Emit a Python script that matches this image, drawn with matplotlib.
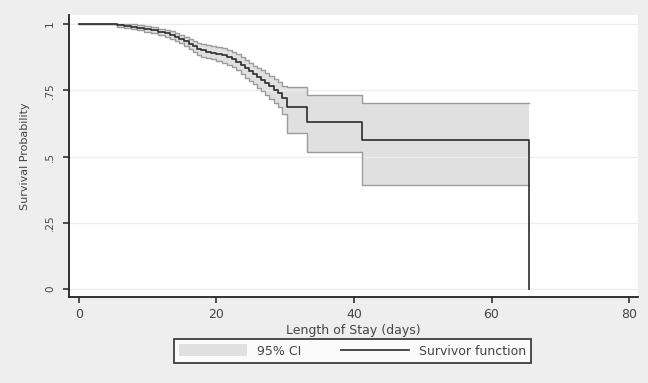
import numpy as np
import matplotlib
matplotlib.use("Agg")
import matplotlib.pyplot as plt
from matplotlib.patches import Patch
from matplotlib.lines import Line2D


# Kaplan-Meier step estimates
event_days = [0, 5.5, 6.5, 7.5, 8.5, 9.5, 10.5, 11.5, 12.5, 13.2, 13.9, 14.6,
              15.3, 16.0, 16.6, 17.2, 17.8, 18.5, 19.2, 20.0, 20.8, 21.5,
              22.2, 22.9, 23.5, 24.1, 24.7, 25.3, 25.9, 26.5, 27.1, 27.7,
              28.3, 28.9, 29.5, 30.2, 33.2, 41.2, 65.5]
survival = [1.0, 0.997, 0.994, 0.99, 0.986, 0.981, 0.976, 0.97, 0.964, 0.958,
            0.951, 0.944, 0.935, 0.925, 0.915, 0.905, 0.9, 0.896, 0.892,
            0.888, 0.882, 0.875, 0.868, 0.858, 0.846, 0.834, 0.822, 0.81,
            0.80, 0.79, 0.778, 0.765, 0.752, 0.74, 0.72, 0.687, 0.632, 0.562,
            0.0]
ci_upper = [1.0, 1.0, 1.0, 0.998, 0.995, 0.991, 0.987, 0.982, 0.977, 0.972,
            0.966, 0.96, 0.952, 0.944, 0.936, 0.928, 0.924, 0.92, 0.917,
            0.913, 0.908, 0.902, 0.896, 0.887, 0.876, 0.865, 0.853, 0.842,
            0.834, 0.825, 0.814, 0.803, 0.791, 0.781, 0.765, 0.763, 0.732,
            0.70, 0.70]
ci_lower = [1.0, 0.99, 0.986, 0.981, 0.976, 0.97, 0.964, 0.957, 0.95, 0.943,
            0.935, 0.927, 0.917, 0.905, 0.893, 0.881, 0.875, 0.871, 0.866,
            0.861, 0.854, 0.846, 0.838, 0.826, 0.812, 0.798, 0.785, 0.772,
            0.76, 0.748, 0.733, 0.718, 0.702, 0.688, 0.662, 0.587, 0.516,
            0.392, 0.392]

x_ticks = [0, 20, 40, 60, 80]
y_ticks = [0, 0.25, 0.5, 0.75, 1]
y_tick_labels = ["0", ".25", ".5", ".75", "1"]


def main() -> None:
    # ------------------------------------------------------------------
    # Figure / axes, Stata-like look
    # ------------------------------------------------------------------
    fig = plt.figure(figsize=(6.48, 3.83), dpi=100, facecolor="#eeeeee")
    ax = fig.add_axes([0.1065, 0.2245, 0.878, 0.7365])
    ax.set_facecolor("white")

    t = np.array(event_days)

    # confidence band
    ax.fill_between(t, ci_lower, ci_upper, step="post",
                    facecolor="#e0e0e0", edgecolor="none", zorder=1)
    ax.step(t, ci_upper, where="post", color="#9c9c9c", lw=1.0, zorder=2)
    ax.step(t, ci_lower, where="post", color="#9c9c9c", lw=1.0, zorder=2)

    # survivor function
    ax.step(t, survival, where="post", color="#333333", lw=1.25, zorder=3)

    # ------------------------------------------------------------------
    # Axes formatting
    # ------------------------------------------------------------------
    ax.set_xlim(-1.45, 81.3)
    ax.set_ylim(-0.03, 1.034)
    ax.set_xticks(x_ticks)
    ax.set_yticks(y_ticks)
    ax.set_yticklabels(y_tick_labels, rotation=90, va="center")
    ax.grid(True, axis="y", color="#ececec", lw=0.9, zorder=0)

    for side in ["top", "right"]:
        ax.spines[side].set_visible(False)
    for side in ["left", "bottom"]:
        ax.spines[side].set_color("#222222")
        ax.spines[side].set_linewidth(1.3)

    ax.tick_params(axis="x", length=4, width=1.1, color="#222222",
                   labelsize=9, labelcolor="#444444", pad=4)
    ax.tick_params(axis="y", length=4, width=1.1, color="#222222",
                   labelsize=7.5, labelcolor="#444444", pad=6)

    ax.set_xlabel("Length of Stay (days)", fontsize=9, color="#444444")
    ax.xaxis.set_label_coords(0.5, -0.095)
    ax.set_ylabel("Survival Probability", fontsize=8, color="#444444")
    ax.yaxis.set_label_coords(-0.069, 0.5)

    # ------------------------------------------------------------------
    # Legend
    # ------------------------------------------------------------------
    handles = [
        Patch(facecolor="#e0e0e0", edgecolor="none"),
        Line2D([], [], color="#333333", lw=1.25),
    ]
    leg = fig.legend(handles, ["95% CI", "Survivor function"],
                     loc="center", bbox_to_anchor=(352.5 / 648, 1 - 351 / 383),
                     ncol=2, fontsize=9, frameon=True, fancybox=False,
                     handlelength=5.4, handleheight=1.05, handletextpad=0.8,
                     columnspacing=3.2, borderpad=0.45, borderaxespad=0)
    leg.get_frame().set_edgecolor("#111111")
    leg.get_frame().set_linewidth(1.3)
    for txt in leg.get_texts():
        txt.set_color("#444444")

    fig.savefig("out.png", dpi=100, facecolor=fig.get_facecolor())
    plt.close(fig)


if __name__ == "__main__":
    main()
